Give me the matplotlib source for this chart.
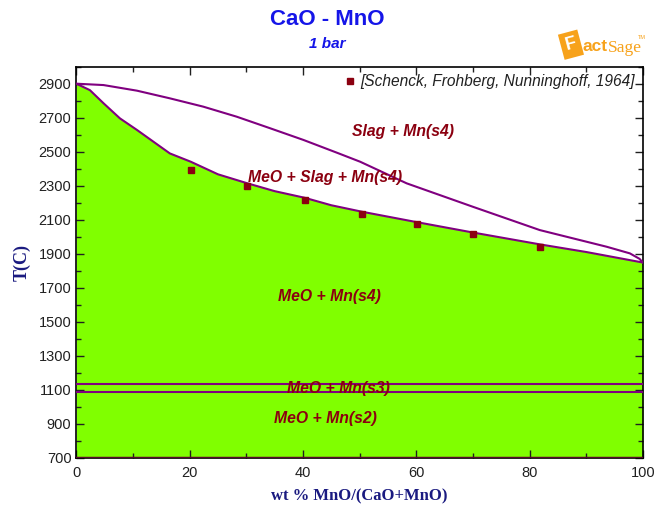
import matplotlib
matplotlib.use("Agg")
import matplotlib.pyplot as plt

plt.rcParams['font.family'] = ['Liberation Sans', 'DejaVu Sans']

# solidus (upper edge of the green MeO + Mn(s4) field)
sol_x = [0, 2.4, 4.8, 7.7, 10.7, 16.5, 20.2, 25, 30.2, 35, 40.3, 45, 50.4, 60.2, 70.1, 81.8, 90, 100]
sol_t = [2900, 2862, 2785, 2696, 2628, 2490, 2441, 2367, 2314, 2268, 2229, 2185, 2147, 2085, 2024, 1955, 1910, 1848]

# liquidus
liq_x = [0, 4.8, 10.7, 16.5, 22.4, 28.3, 34.2, 40.1, 46, 50.1, 58.3, 70, 81.8, 93.6, 97.7, 99.4, 100]
liq_t = [2900, 2892, 2859, 2814, 2765, 2706, 2638, 2569, 2494, 2441, 2314, 2176, 2039, 1941, 1902, 1870, 1848]

# Mn allotropic transitions
trans_t = [1132, 1086]

# experimental points [Schenck, Frohberg, Nunninghoff, 1964]
exp_x = [20.2, 30.2, 40.3, 50.4, 60.2, 70.1, 81.8]
exp_t = [2394, 2296, 2214, 2134, 2076, 2014, 1941]

labels = ["Slag + Mn(s4)", "MeO + Slag + Mn(s4)", "MeO + Mn(s4)", "MeO + Mn(s3)", "MeO + Mn(s2)"]
lab_x = [57.6, 43.9, 44.6, 46.3, 44.0]
lab_t = [2620, 2350, 1650, 1105, 930]

fig = plt.figure(figsize=(6.54, 5.08), dpi=100)
ax = fig.add_axes([0.1167, 0.099, 0.8663, 0.7697])

green = '#80FF00'
purple = '#800080'
dark_red = '#8B0010'

ax.fill_between(sol_x, 700, sol_t, color=green, lw=0, zorder=1)
ax.plot(sol_x, sol_t, color=purple, lw=1.5, zorder=3)
ax.plot(liq_x, liq_t, color=purple, lw=1.5, zorder=3)
for t in trans_t:
    ax.axhline(t, color=purple, lw=1.5, zorder=3)
ax.axhline(700, color='#5a0a2a', lw=2.5, zorder=3)

ax.plot(exp_x, exp_t, 's', color=dark_red, ms=4.5, zorder=4)

for s, x, t in zip(labels, lab_x, lab_t):
    ax.text(x, t, s, color=dark_red, fontsize=11.3, fontweight='bold',
            style='italic', ha='center', va='center', zorder=5)

# legend entry
ax.plot([48.3], [2915], 's', color=dark_red, ms=4, zorder=4)
ax.text(50.2, 2915, "[Schenck, Frohberg, Nunninghoff, 1964]", style='italic',
        fontsize=11.2, color='#202020', ha='left', va='center', zorder=5)

ax.set_xlim(0, 100)
ax.set_ylim(700, 3000)
ax.set_xticks(range(0, 101, 20))
ax.set_xticks(range(0, 101, 10), minor=True)
ax.set_yticks(range(700, 3000, 200))
ax.set_yticks(range(700, 3001, 100), minor=True)
ax.tick_params(which='both', direction='in', top=True, right=True,
               labelsize=10.5, colors='#202020')
ax.tick_params(which='major', length=6, width=1)
ax.tick_params(which='minor', length=3.5, width=1)
ax.tick_params(axis='x', pad=6)
for sp in ax.spines.values():
    sp.set_linewidth(1.2)

navy = '#1a1a80'
ax.set_ylabel("T(C)", family='Liberation Serif', fontweight='bold', fontsize=13,
              color=navy, labelpad=6)
ax.set_xlabel("wt % MnO/(CaO+MnO)", family='Liberation Serif', fontweight='bold',
              fontsize=12, color=navy, labelpad=6)

fig.text(0.5, 0.962, "CaO - MnO", color='#1515E8', fontsize=16, fontweight='bold',
         ha='center', va='center')
fig.text(0.5, 0.914, "1 bar", color='#1515E8', fontsize=11, fontweight='bold',
         style='italic', ha='center', va='center')

# FactSage logo
orange = '#F7A21B'
fig.text(0.873, 0.912, "F", color='white', fontsize=13, fontweight='bold',
         ha='center', va='center', rotation=15,
         bbox=dict(boxstyle='square,pad=0.25', fc=orange, ec='none'))
fig.text(0.890, 0.908, "act", color=orange, fontsize=12.5, fontweight='bold',
         ha='left', va='center')
fig.text(0.930, 0.906, "Sage", color=orange, fontsize=12.5, family='Liberation Serif',
         ha='left', va='center')
fig.text(0.988, 0.926, "TM", color=orange, fontsize=4, ha='right', va='center')

fig.savefig("out.png", dpi=100)
